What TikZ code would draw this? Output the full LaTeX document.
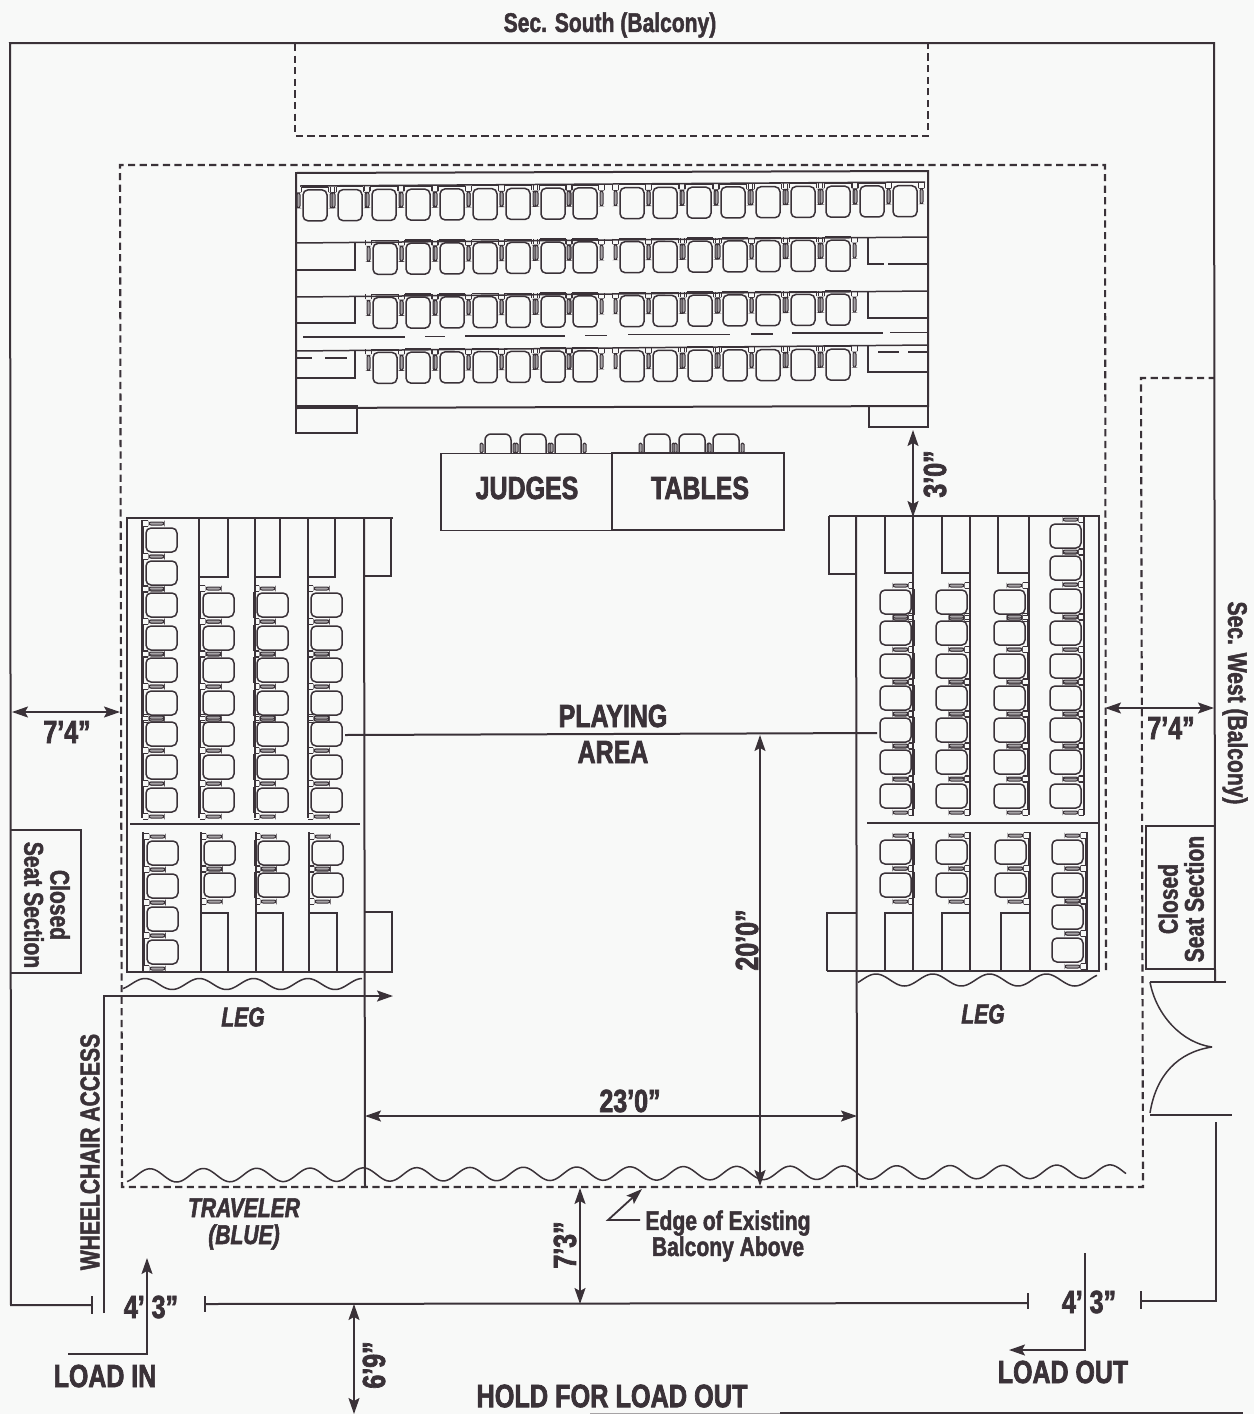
\documentclass[tikz,border=0pt]{standalone}
\usepackage{fontspec}
\usepackage{tikz}
\usetikzlibrary{arrows.meta}
\newfontfamily\labfont[FakeStretch=0.78,FakeBold=2.2]{Liberation Sans Bold}
\newfontfamily\midfont[FakeStretch=0.78,FakeBold=1.7]{Liberation Sans Bold}
\newfontfamily\labitfont[FakeStretch=0.78,FakeBold=2]{Liberation Sans Bold Italic}
\definecolor{ink}{HTML}{3A3238}
\definecolor{paper}{HTML}{F8F9F8}
\definecolor{pillgray}{HTML}{A5A2A5}
\tikzset{
  wall/.style={draw=ink,line width=1pt},
  thin line/.style={draw=ink,line width=0.75pt},
  seatline/.style={draw=ink,line width=0.75pt},
  balc/.style={draw=ink,line width=1.05pt,dash pattern=on 3.6pt off 2.2pt},
  dim/.style={draw=ink,line width=0.9pt,{Stealth[length=8pt,width=5.5pt,inset=1.5pt]}-{Stealth[length=8pt,width=5.5pt,inset=1.5pt]}},
  oneway/.style={draw=ink,line width=0.9pt,-{Stealth[length=8pt,width=5.5pt,inset=1.5pt]}},
  lab/.style={text=ink,font=\labfont\fontsize{16}{18}\selectfont,inner sep=0pt,align=center},
  labmid/.style={text=ink,font=\midfont\fontsize{13.5}{13}\selectfont,inner sep=0pt,align=center},
  labit/.style={text=ink,font=\labitfont\fontsize{13.5}{13.5}\selectfont,inner sep=0pt,align=center},
  pics/chairseat/.style={code={
    \draw[seatline,rounded corners=2.5pt] (-12,-15) -- (-12,16) -- (12,16) -- (12,-15) -- cycle;
    \draw[seatline] (-13,-18) -- (13,-18);
    \foreach \s in {-1,1}{
      \draw[seatline,line width=0.5pt,fill=pillgray,rounded corners=1pt] ({\s*15},-12) rectangle ({\s*18},3);
      \draw[seatline,line width=0.4pt] ({\s*13.5},-18) -- ({\s*13.5},-13);
      \draw[seatline,line width=0.4pt] ({\s*19.5},-18) -- ({\s*19.5},-13);
    }
  }},
  pics/judgeseat/.style={code={
    \draw[seatline,rounded corners=3pt] (-13,19) -- (-13,0) -- (13,0) -- (13,19);
    \foreach \s in {-1,1}{
      \draw[seatline,line width=0.5pt,fill=pillgray,rounded corners=0.7pt] ({\s*15},9) rectangle ({\s*18},19);
    }
  }}
}
\begin{document}
\begin{tikzpicture}[x=0.5pt,y=-0.5pt]
\useasboundingbox (0,0) rectangle (1254,1414);
\fill[paper] (0,0) rectangle (1254,1414);

% bottom edge
\draw[draw=ink!45,line width=0.8pt] (590,1413.3) -- (780,1413.3);
\draw[draw=ink,line width=1.2pt] (780,1413.3) -- (1243,1413.3);

% outer wall
\draw[wall] (92,1305) -- (11,1305) -- (10,43) -- (1214,43) -- (1215,982);
\draw[wall] (92,1296) -- (92,1314);
\draw[wall] (1216,1122) -- (1216,1301) -- (1141,1301);
\draw[wall] (1141,1291) -- (1141,1309);
\draw[wall] (205,1296) -- (205,1312);
\draw[wall] (205,1304) -- (1028,1303);
\draw[wall] (1028,1293) -- (1028,1309);

% door
\draw[thin line] (1150,982) -- (1226,982);
\draw[thin line] (1150,1115) -- (1232,1115);
\draw[thin line] (1150,982) .. controls (1156,1015) and (1182,1043) .. (1212,1047);
\draw[thin line] (1150,1113) .. controls (1156,1075) and (1178,1052) .. (1212,1047);

% balcony edges
\draw[balc] (295,44) -- (295,136) -- (928,136) -- (928,44);
\draw[balc] (1106,970) -- (1105,165) -- (120,165) -- (122,1187) -- (1143,1187) -- (1141,378) -- (1214,378);

% top block of seats
\draw[wall] (296,173) -- (928,171) -- (928,406) -- (296,408) -- cycle;
\draw[wall] (296,406) rectangle (357,433);
\draw[wall] (869,407) -- (869,427) -- (928,427) -- (928,407);
\foreach \ya/\yb/\yc in {243/270/237, 297/323/291, 351/378/345}{
  \draw[thin line] (296,\ya) -- (928,\yc);
  \draw[wall] (296,\yb) -- (355,\yb) -- (355,\ya);
}
\draw[thin line] (300,186) -- (925,182);
\draw[wall] (868,238) -- (868,264) -- (884,264);
\draw[wall] (888,264) -- (928,264);
\draw[wall] (868,292) -- (868,318) -- (928,318);
\draw[wall] (868,346) -- (868,372) -- (928,372);
\foreach \a/\b/\c in {303/405/337,425/445/336.7,465/565/336,585/607/335.5,628/730/334.5,751/773/334,792/883/333,890/927/332.5}{
  \draw[thin line] (\a,\c) -- (\b,\c);
}
\draw[thin line] (296,358) -- (312,358);
\draw[thin line] (325,358) -- (347,358);
\draw[thin line] (878,352) -- (899,352);
\draw[thin line] (908,352) -- (928,352);
\foreach \x in {315,350,384,418,452,485,518,553,585,632,665,699,733,768,803,838,872,905}{
  \pgfmathsetmacro\yy{205-0.007*(\x-296)}
  \pic at (\x,\yy) {chairseat};
}
\foreach \r in {259,313,368}{
  \foreach \x in {385,418,452,485,518,553,585,632,665,700,735,768,803,838}{
    \pgfmathsetmacro\yy{\r-0.007*(\x-296)}
    \pic at (\x,\yy) {chairseat};
  }
}

% judges tables
\foreach \x in {498,533,568,657,692,726}{
  \pic at (\x,434) {judgeseat};
}
\node[draw=ink,line width=0.75pt,fill=paper,minimum width=85.5pt,minimum height=38.5pt,inner sep=0pt] (judgesbox) at (526.5,492) {};
\node[draw=ink,line width=0.75pt,fill=paper,minimum width=86pt,minimum height=38.5pt,inner sep=0pt] (tablesbox) at (698,491.5) {};
\node[lab] (judges) at (527,488) {JUDGES};
\node[lab] (tables) at (700,488) {TABLES};

% left block
\draw[wall] (393,518) -- (127,518) -- (127,972) -- (393,972);
\draw[wall] (364,576) -- (391,576) -- (391,518);
\draw[wall] (364,912) -- (392,912) -- (392,972);
\draw[wall] (130,824) -- (360,824);
\draw[wall] (142,520) -- (142,818);
\draw[wall] (143,832) -- (143,972);
\foreach \u/\b/\l/\br in {199/228/201/228, 255/280/256/283, 308/335/309/337}{
  \draw[wall] (\u,518) -- (\u,818);
  \draw[wall] (\u,577) -- (\b,577) -- (\b,518);
  \draw[wall] (\l,832) -- (\l,972);
  \draw[thin line] (\l,913) -- (\br,913) -- (\br,972);
}
\foreach \y in {540,573,605,638,670,703,734,767,800}{ \pic[rotate=90] at (161,\y) {chairseat}; }
\foreach \x in {218,272,326}{
  \foreach \y in {605,638,670,703,734,767,800}{ \pic[rotate=90] at (\x,\y) {chairseat}; }
}
\foreach \y in {853,886,919,952}{ \pic[rotate=90] at (162,\y) {chairseat}; }
\foreach \x in {219,273,327}{
  \foreach \y in {853,885}{ \pic[rotate=90] at (\x,\y) {chairseat}; }
}

% right block
\draw[wall] (829,516) -- (1099,516) -- (1099,971) -- (827,971);
\draw[wall] (856,574) -- (829,574) -- (829,516);
\draw[wall] (856,913) -- (827,913) -- (827,971);
\draw[wall] (867,823) -- (1098,823);
\foreach \u/\b/\l/\bl in {913/885/913/885, 970/942/970/942, 1029/998/1030/1001}{
  \draw[wall] (\u,516) -- (\u,815);
  \draw[wall] (\u,573) -- (\b,573) -- (\b,516);
  \draw[wall] (\l,832) -- (\l,971);
  \draw[thin line] (\l,913) -- (\bl,913) -- (\bl,971);
}
\draw[wall] (1084,516) -- (1084,815);
\draw[wall] (1087,832) -- (1087,971);
\foreach \x/\c in {913/896, 970/952, 1029/1010}{
  \foreach \y in {602,633,666,698,730,762,796}{ \pic[rotate=-90] at (\c,\y) {chairseat}; }
}
\foreach \y in {536,568,601,633,666,698,730,762,796}{ \pic[rotate=-90] at (1066,\y) {chairseat}; }
\foreach \c in {896,952,1011}{
  \foreach \y in {852,885}{ \pic[rotate=-90] at (\c,\y) {chairseat}; }
}
\foreach \y in {852,885,917,950}{ \pic[rotate=-90] at (1068,\y) {chairseat}; }

% long stage lines
\draw[wall] (364,518) -- (365,1187);
\draw[wall] (856,516) -- (857,1187);
\draw[wall] (345,735) -- (877,733);

% scallops
\draw[thin line] plot[smooth,domain=123:362,samples=120] (\x,{984-5.5*cos((\x-145)/54.3*360)});
\draw[thin line] plot[smooth,domain=858:1097,samples=120] (\x,{980-6*cos((\x-876)/56.8*360)});
\draw[thin line] plot[smooth,domain=127:1126,samples=400] (\x,{1175.5-0.004*(\x-127)-6.7*cos((\x-150)/53.33*360)});

% wheelchair access and load paths
\draw[wall,-{Stealth[length=8pt,width=5.5pt,inset=1.5pt]}] (104,1313) -- (104,996) -- (393,996);
\draw[oneway] (68,1354) -- (147,1354) -- (147,1258);
\draw[oneway] (1085,1253) -- (1085,1350) -- (1009,1350);

% dimensions
\draw[dim] (12,712) -- (120,712);
\draw[dim] (1105,708) -- (1214,708);
\draw[dim] (913,430) -- (913,517);
\draw[dim] (760,735) -- (760,1186);
\draw[dim] (365,1116) -- (857,1116);
\draw[dim] (580,1188) -- (580,1304);
\draw[dim] (354,1304) -- (354,1414);
\draw[oneway] (640,1220) -- (608,1220) -- (642,1189);

% closed seat boxes
\draw[wall] (11,830) -- (81,830) -- (81,973) -- (11,973);
\draw[wall] (1215,826) -- (1146,826) -- (1146,969) -- (1215,969);

% labels
\node[labmid] (south) at (610,25) {Sec. South (Balcony)};
\node[labmid,rotate=-90] (west) at (1235,703) {Sec. West (Balcony)};
\node[labmid,rotate=-90] (closedl) at (47,905) {Closed\\Seat Section};
\node[labmid,rotate=90] (closedr) at (1181,899) {Closed\\Seat Section};
\node[labmid,rotate=90] (wheel) at (90,1152) {WHEELCHAIR ACCESS};
\node[labmid] (edge) at (728,1236) {Edge of Existing\\Balcony Above};
\node[lab] (playing) at (613,716) {PLAYING};
\node[lab] (area) at (613,752) {AREA};
\node[labit] (legl) at (243,1017) {LEG};
\node[labit] (legr) at (983,1014) {LEG};
\node[labit] (traveler) at (244,1224) {TRAVELER\\(BLUE)};
\node[lab] (d1) at (67,732) {7’4”};
\node[lab] (d2) at (1171,728) {7’4”};
\node[lab,rotate=90] (d3) at (935,474) {3’0”};
\node[lab,rotate=90] (d4) at (747,940) {20’0”};
\node[lab] (d5) at (630,1101) {23’0”};
\node[lab,rotate=90] (d6) at (565,1245) {7’3”};
\node[lab,rotate=90] (d7) at (374,1365) {6’9”};
\node[lab] (d8) at (151,1307) {4’ 3”};
\node[lab] (d9) at (1089,1302) {4’ 3”};
\node[lab] (loadin) at (105,1376) {LOAD IN};
\node[lab] (loadout) at (1063,1372) {LOAD OUT};
\node[lab,font=\labfont\fontsize{16.2}{18}\selectfont] (hold) at (612,1396) {HOLD FOR LOAD OUT};
\end{tikzpicture}
\end{document}
